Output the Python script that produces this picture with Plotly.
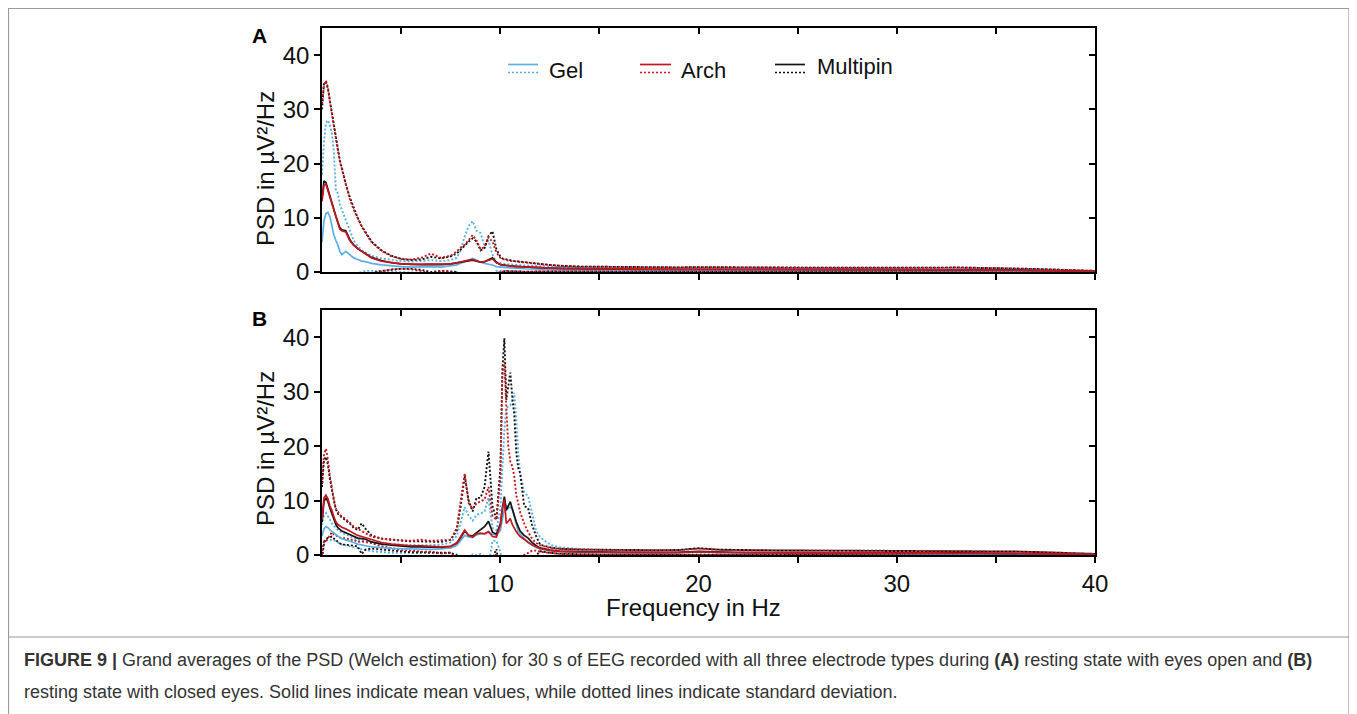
import plotly.graph_objects as go

# ---------------- data ----------------
freq = ([1.0, 1.1, 1.2, 1.3, 1.4, 1.5, 1.6, 1.7, 1.8, 1.9, 2.0, 2.2, 2.4, 2.6, 2.8, 3.0, 3.2, 3.5]
        + [4.0, 4.5, 5.0, 5.5, 6.0, 6.5, 7.0, 7.5, 7.8, 8.0, 8.2, 8.4, 8.6, 8.8, 9.0, 9.2, 9.4, 9.6, 9.8]
        + [10.0, 10.1, 10.2, 10.3, 10.4, 10.5, 10.6, 10.7, 10.8, 10.9, 11.0, 11.2, 11.4, 11.6, 11.8, 12.0, 12.5, 13.0]
        + list(range(14, 41)))

# Panel A: eyes open
gel_a_mean = ([5.5, 9.5, 10.8, 11.0, 10.2, 8.5, 6.8, 5.8, 5.0, 3.8, 3.2, 3.8, 3.2, 2.6, 2.3, 2.0, 1.9, 1.6]
              + [1.3, 1.1, 1.0, 0.9, 0.95, 1.0, 0.9, 1.1, 1.3, 1.6, 1.9, 2.3, 2.5, 2.2, 1.8, 1.6, 1.5, 1.3, 1.0]
              + [0.9, 0.85, 0.8, 0.8, 0.8, 0.75, 0.75, 0.7, 0.7, 0.7, 0.65, 0.6, 0.6, 0.55, 0.55, 0.5, 0.5, 0.45]
              + [0.4, 0.4, 0.38, 0.38, 0.36, 0.36, 0.38, 0.36, 0.35, 0.34, 0.34, 0.33, 0.33, 0.32, 0.32, 0.32, 0.3, 0.3, 0.3, 0.3, 0.3, 0.28, 0.26, 0.24, 0.2, 0.15, 0.1])
gel_a_sd = ([12.5, 14.5, 16.7, 17.0, 16.8, 17.0, 15.2, 9.2, 9.5, 8.7, 8.3, 5.7, 4.3, 3.2, 2.5, 2.0, 1.7, 1.4]
            + [1.2, 1.1, 1.0, 1.0, 1.05, 1.2, 1.1, 1.1, 1.3, 2.4, 4.7, 6.2, 6.9, 5.4, 5.4, 3.2, 4.3, 1.9, 0.8]
            + [0.7, 0.65, 0.7, 0.6, 0.6, 0.65, 0.6, 0.6, 0.6, 0.6, 0.6, 0.6, 0.6, 0.6, 0.55, 0.55, 0.5, 0.5]
            + [0.5, 0.45, 0.47, 0.42, 0.44, 0.44, 0.44, 0.44, 0.43, 0.44, 0.42, 0.43, 0.42, 0.43, 0.42, 0.42, 0.44, 0.42, 0.42, 0.44, 0.42, 0.4, 0.34, 0.26, 0.2, 0.15, 0.1])
arch_a_mean = ([13.0, 16.0, 16.2, 15.0, 13.5, 12.5, 11.2, 10.2, 8.9, 7.9, 7.6, 7.4, 5.8, 4.9, 4.3, 3.8, 3.3, 2.6]
               + [2.0, 1.7, 1.5, 1.4, 1.4, 1.5, 1.4, 1.5, 1.7, 1.9, 2.0, 2.2, 2.3, 2.0, 1.8, 1.9, 2.2, 2.4, 1.7]
               + [1.3, 1.25, 1.2, 1.2, 1.15, 1.1, 1.1, 1.05, 1.0, 1.0, 0.95, 0.9, 0.9, 0.85, 0.8, 0.8, 0.7, 0.65]
               + [0.6, 0.55, 0.5, 0.5, 0.48, 0.48, 0.5, 0.48, 0.46, 0.45, 0.44, 0.44, 0.43, 0.42, 0.42, 0.42, 0.4, 0.4, 0.4, 0.42, 0.4, 0.36, 0.32, 0.28, 0.22, 0.16, 0.1])
arch_a_sd = ([18.0, 18.5, 19.1, 19.0, 18.0, 16.5, 15.3, 14.3, 13.5, 12.5, 11.4, 8.6, 7.7, 6.6, 5.6, 4.6, 3.9, 2.9]
             + [1.9, 1.2, 0.9, 0.9, 1.2, 1.9, 1.2, 1.5, 2.1, 2.6, 3.0, 3.8, 4.5, 3.8, 2.4, 2.7, 4.2, 3.2, 1.9]
             + [1.3, 1.15, 1.1, 1.0, 0.95, 1.0, 0.9, 0.95, 0.9, 0.9, 0.9, 0.9, 0.85, 0.8, 0.75, 0.65, 0.6, 0.5]
             + [0.4, 0.4, 0.4, 0.38, 0.37, 0.37, 0.38, 0.37, 0.36, 0.35, 0.36, 0.36, 0.35, 0.36, 0.36, 0.36, 0.36, 0.36, 0.38, 0.43, 0.4, 0.36, 0.32, 0.27, 0.23, 0.16, 0.1])
multi_a_mean = ([13.5, 16.8, 16.5, 15.2, 13.8, 12.6, 11.3, 10.3, 9.2, 8.2, 7.8, 7.6, 6.0, 5.0, 4.3, 3.8, 3.4, 2.7]
                + [2.1, 1.7, 1.5, 1.4, 1.35, 1.4, 1.35, 1.5, 1.7, 1.9, 2.0, 2.1, 2.2, 2.0, 1.8, 1.9, 2.3, 2.6, 1.8]
                + [1.35, 1.3, 1.25, 1.2, 1.2, 1.15, 1.1, 1.1, 1.05, 1.0, 1.0, 0.95, 0.9, 0.85, 0.85, 0.8, 0.72, 0.66]
                + [0.6, 0.56, 0.52, 0.5, 0.5, 0.48, 0.5, 0.48, 0.46, 0.46, 0.45, 0.44, 0.44, 0.43, 0.42, 0.42, 0.42, 0.41, 0.41, 0.42, 0.4, 0.37, 0.33, 0.28, 0.22, 0.16, 0.1])
multi_a_sd = ([16.5, 18.0, 18.5, 18.6, 17.7, 16.6, 15.5, 14.3, 13.4, 12.4, 11.4, 8.6, 7.8, 6.8, 5.7, 4.7, 4.0, 2.9]
              + [1.9, 1.3, 0.9, 0.8, 0.95, 1.4, 1.15, 1.4, 1.7, 2.3, 2.8, 3.5, 4.0, 3.6, 2.2, 2.5, 4.3, 4.9, 2.4]
              + [1.45, 1.2, 1.15, 1.1, 1.0, 1.0, 1.0, 0.9, 0.95, 0.95, 0.9, 0.9, 0.85, 0.85, 0.75, 0.7, 0.58, 0.49]
              + [0.4, 0.39, 0.4, 0.38, 0.36, 0.37, 0.4, 0.38, 0.36, 0.34, 0.35, 0.36, 0.36, 0.35, 0.36, 0.38, 0.34, 0.35, 0.39, 0.4, 0.4, 0.35, 0.31, 0.27, 0.23, 0.16, 0.1])

# Panel B: eyes closed
gel_b_mean = ([3.5, 4.8, 5.2, 5.0, 4.6, 4.3, 4.0, 3.7, 3.4, 3.2, 3.0, 2.8, 2.5, 2.3, 2.0, 1.8, 1.7, 1.5]
              + [1.3, 1.2, 1.15, 1.1, 1.1, 1.05, 1.1, 1.3, 1.8, 2.6, 3.6, 3.3, 3.2, 3.7, 3.9, 3.9, 4.2, 3.8, 3.6]
              + [4.5, 6.5, 8.5, 9.2, 8.6, 8.8, 8.4, 7.0, 5.6, 4.4, 3.9, 3.0, 2.4, 1.8, 1.4, 1.1, 0.8, 0.6]
              + [0.5, 0.45, 0.42, 0.42, 0.4, 0.42, 0.55, 0.45, 0.4, 0.38, 0.38, 0.36, 0.36, 0.35, 0.35, 0.35, 0.34, 0.34, 0.33, 0.34, 0.32, 0.3, 0.28, 0.25, 0.2, 0.15, 0.1])
gel_b_sd = ([2.0, 2.4, 2.5, 2.2, 1.9, 1.5, 1.3, 1.2, 1.2, 1.1, 1.1, 1.0, 0.9, 0.8, 0.8, 0.8, 0.8, 0.8]
            + [0.8, 0.8, 0.75, 0.7, 0.7, 0.75, 0.8, 1.0, 1.7, 3.4, 5.2, 3.9, 3.1, 3.7, 3.7, 4.1, 6.3, 1.2, 1.0]
            + [4.0, 9.5, 14.5, 17.8, 18.6, 18.7, 20.1, 22.8, 19.4, 14.3, 11.1, 8.5, 8.4, 5.7, 3.1, 2.2, 1.1, 0.8]
            + [0.6, 0.5, 0.48, 0.46, 0.45, 0.46, 0.6, 0.5, 0.48, 0.47, 0.44, 0.44, 0.44, 0.43, 0.43, 0.43, 0.42, 0.42, 0.41, 0.42, 0.42, 0.4, 0.37, 0.31, 0.25, 0.17, 0.1])
arch_b_mean = ([6.5, 10.5, 11.0, 10.3, 9.0, 8.2, 7.0, 6.1, 5.6, 5.3, 5.1, 4.8, 4.4, 4.0, 3.6, 3.4, 3.2, 2.8]
               + [2.3, 2.0, 1.8, 1.7, 1.7, 1.6, 1.5, 1.6, 2.2, 3.4, 4.6, 3.6, 3.3, 3.9, 4.0, 3.9, 4.3, 3.4, 3.3]
               + [5.5, 8.5, 10.1, 5.8, 6.2, 6.7, 5.6, 4.9, 4.3, 3.8, 3.4, 2.9, 2.3, 1.9, 1.5, 1.2, 0.85, 0.65]
               + [0.55, 0.5, 0.46, 0.45, 0.44, 0.46, 0.6, 0.48, 0.44, 0.42, 0.4, 0.4, 0.4, 0.38, 0.38, 0.38, 0.37, 0.36, 0.36, 0.38, 0.36, 0.33, 0.3, 0.26, 0.21, 0.15, 0.1])
arch_b_sd = ([6.5, 8.0, 8.5, 7.2, 5.5, 4.0, 3.2, 2.4, 2.3, 2.1, 2.0, 1.7, 1.6, 1.2, 1.2, 0.9, 0.8, 0.6]
             + [0.7, 0.8, 0.9, 0.9, 1.1, 1.0, 1.2, 1.2, 2.8, 6.6, 10.4, 5.9, 5.2, 5.6, 5.8, 6.3, 8.2, 3.8, 3.2]
             + [8.5, 24.5, 25.4, 21.2, 13.8, 10.5, 10.7, 9.6, 6.7, 5.7, 4.4, 2.9, 1.9, 1.1, 0.7, 0.6, 0.45, 0.45]
             + [0.45, 0.42, 0.44, 0.43, 0.42, 0.44, 0.6, 0.47, 0.44, 0.43, 0.42, 0.4, 0.4, 0.4, 0.4, 0.4, 0.39, 0.4, 0.39, 0.4, 0.39, 0.37, 0.34, 0.29, 0.24, 0.17, 0.1])
multi_b_mean = ([6.0, 9.8, 10.5, 9.8, 8.6, 7.6, 6.5, 5.6, 5.0, 4.7, 4.4, 4.1, 3.8, 3.4, 3.1, 3.0, 2.9, 2.4]
                + [2.0, 1.8, 1.6, 1.5, 1.5, 1.4, 1.4, 1.6, 2.2, 3.2, 4.4, 3.6, 3.5, 4.1, 4.6, 5.2, 6.2, 4.2, 3.8]
                + [5.8, 8.5, 10.7, 8.2, 9.0, 9.8, 8.5, 7.2, 6.1, 5.2, 4.4, 3.6, 3.1, 2.3, 1.7, 1.3, 0.9, 0.7]
                + [0.58, 0.52, 0.48, 0.47, 0.46, 0.48, 0.65, 0.5, 0.46, 0.44, 0.42, 0.42, 0.41, 0.4, 0.4, 0.4, 0.38, 0.38, 0.37, 0.39, 0.37, 0.34, 0.31, 0.27, 0.22, 0.16, 0.1])
multi_b_sd = ([6.5, 7.7, 7.5, 6.7, 5.4, 4.2, 3.5, 2.8, 2.6, 2.5, 2.5, 2.2, 2.0, 1.6, 1.5, 2.8, 1.9, 1.2]
              + [1.0, 1.0, 1.0, 1.0, 1.0, 1.0, 1.0, 1.2, 2.3, 5.8, 10.1, 6.4, 4.5, 6.4, 5.9, 7.3, 12.8, 4.8, 2.7]
              + [10.2, 25.5, 29.1, 20.3, 22.0, 23.7, 20.5, 18.6, 12.9, 10.8, 10.6, 5.4, 5.5, 3.2, 1.8, 0.6, 0.5, 0.45]
              + [0.42, 0.43, 0.42, 0.43, 0.42, 0.44, 0.6, 0.48, 0.44, 0.42, 0.42, 0.4, 0.39, 0.4, 0.4, 0.38, 0.4, 0.38, 0.39, 0.41, 0.39, 0.36, 0.33, 0.28, 0.23, 0.16, 0.1])

electrodes = ["Gel", "Multipin", "Arch"]          # drawing order
colors = {"Gel": "#5AAFE6", "Arch": "#C4161C", "Multipin": "#141414"}
legend_order = ["Gel", "Arch", "Multipin"]
x_ticks = [5, 10, 15, 20, 25, 30, 35, 40]
x_ticktext = ["", "10", "", "20", "", "30", "", "40"]
y_ticks = [0, 10, 20, 30, 40]

panels = {
    "A": {"Gel": (gel_a_mean, gel_a_sd), "Arch": (arch_a_mean, arch_a_sd), "Multipin": (multi_a_mean, multi_a_sd)},
    "B": {"Gel": (gel_b_mean, gel_b_sd), "Arch": (arch_b_mean, arch_b_sd), "Multipin": (multi_b_mean, multi_b_sd)},
}
for p in panels.values():
    for m, s in p.values():
        assert len(m) == len(freq) and len(s) == len(freq), (len(m), len(s), len(freq))

# ---------------- figure ----------------
# the page body has an 8 px margin, so the figure is drawn 8 px in from the window corner
OFF = 8
W, H = 1357 - OFF, 714 - OFF
L, R, T, B = 322 - OFF, 262, 28 - OFF, 159
PW, PH = W - L - R, H - T - B


def px_x(px):
    """screen x (window pixels) -> paper x"""
    return (px - OFF - L) / PW


def px_y(py):
    """screen y (window pixels) -> paper y"""
    return (H - B - (py - OFF)) / PH


fig = go.Figure()
axis_of = {"A": ("x", "y"), "B": ("x2", "y2")}
FONT = "Liberation Sans, Arial, Helvetica, sans-serif"
DOT = "2px,2px"

for pname, pdata in panels.items():
    xa, ya = axis_of[pname]
    for el in electrodes:
        mean, sd = pdata[el]
        upper = [m + s for m, s in zip(mean, sd)]
        lower = [m - s for m, s in zip(mean, sd)]
        for ys in (lower, upper):
            fig.add_trace(go.Scatter(x=freq, y=ys, mode="lines", xaxis=xa, yaxis=ya,
                                     line=dict(color=colors[el], width=1.9, dash=DOT),
                                     showlegend=False, hoverinfo="skip"))
    for el in electrodes:
        mean, sd = pdata[el]
        fig.add_trace(go.Scatter(x=freq, y=mean, mode="lines", xaxis=xa, yaxis=ya,
                                 line=dict(color=colors[el], width=1.7),
                                 showlegend=False, name=el))

# dummy traces to register mirror-tick overlay axes
for xa, ya in [("x3", "y"), ("x", "y3"), ("x4", "y2"), ("x2", "y4")]:
    fig.add_trace(go.Scatter(x=[None], y=[None], xaxis=xa, yaxis=ya, showlegend=False, hoverinfo="skip"))

dom_a = [px_y(272), 1.0]
dom_b = [0.0, px_y(310)]

common_x = dict(range=[1, 40], tickmode="array", tickvals=x_ticks, ticktext=x_ticktext,
                showgrid=False, zeroline=False, showline=True, linecolor="black", linewidth=1.5,
                mirror=True, ticks="outside", ticklen=6, tickwidth=1.5, tickcolor="black",
                tickfont=dict(size=24, color="#111", family=FONT))
common_y = dict(range=[0, 45], tickmode="array", tickvals=y_ticks, showgrid=False, zeroline=False,
                showline=True, linecolor="black", linewidth=1.5, mirror=True, ticks="outside",
                ticklen=6, tickwidth=1.5, tickcolor="black",
                tickfont=dict(size=24, color="#111", family=FONT))
mirror_x = dict(range=[1, 40], tickmode="array", tickvals=x_ticks, showticklabels=False, showgrid=False,
                zeroline=False, showline=False, ticks="inside", ticklen=6, tickwidth=1.5, tickcolor="black",
                side="top")
mirror_y = dict(range=[0, 45], tickmode="array", tickvals=y_ticks, showticklabels=False, showgrid=False,
                zeroline=False, showline=False, ticks="inside", ticklen=6, tickwidth=1.5, tickcolor="black",
                side="right")

fig.update_layout(
    width=W, height=H,
    margin=dict(l=L, r=R, t=T, b=B, pad=0),
    paper_bgcolor="white", plot_bgcolor="white",
    font=dict(family=FONT, color="#111"),
    showlegend=False,
    xaxis=dict(**common_x, anchor="y", showticklabels=False),
    yaxis=dict(**common_y, anchor="x", domain=dom_a),
    xaxis2=dict(**common_x, anchor="y2"),
    yaxis2=dict(**common_y, anchor="x2", domain=dom_b),
    xaxis3=dict(**mirror_x, overlaying="x", anchor="y"),
    yaxis3=dict(**mirror_y, overlaying="y", anchor="x"),
    xaxis4=dict(**mirror_x, overlaying="x2", anchor="y2"),
    yaxis4=dict(**mirror_y, overlaying="y2", anchor="x2"),
)

ann = []
# panel letters
ann.append(dict(text="<b>A</b>", x=px_x(259), y=px_y(35), xref="paper", yref="paper", showarrow=False,
                font=dict(size=21, family=FONT, color="black"), xanchor="center", yanchor="middle"))
ann.append(dict(text="<b>B</b>", x=px_x(259), y=px_y(318), xref="paper", yref="paper", showarrow=False,
                font=dict(size=21, family=FONT, color="black"), xanchor="center", yanchor="middle"))
# axis titles
for cy in (169, 449):
    ann.append(dict(text="PSD in µV²/Hz", x=px_x(265), y=px_y(cy), xref="paper", yref="paper",
                    showarrow=False, textangle=-90, font=dict(size=24, family=FONT, color="#111"),
                    xanchor="center", yanchor="middle"))
ann.append(dict(text="Frequency in Hz", x=px_x(693), y=px_y(607), xref="paper", yref="paper",
                showarrow=False, font=dict(size=24, family=FONT, color="#111"),
                xanchor="center", yanchor="middle"))

# legend (custom: solid + dotted sample per electrode)
legend_pos = {"Gel": (508, 538, 547, 70), "Arch": (640, 671, 679, 70), "Multipin": (775, 805, 815, 67)}
shapes = []
for el in legend_order:
    x0, x1, tx, ty = legend_pos[el]
    shapes.append(dict(type="line", xref="paper", yref="paper", x0=px_x(x0), x1=px_x(x1),
                       y0=px_y(64.5), y1=px_y(64.5), line=dict(color=colors[el], width=1.7)))
    shapes.append(dict(type="line", xref="paper", yref="paper", x0=px_x(x0), x1=px_x(x1),
                       y0=px_y(72.5), y1=px_y(72.5), line=dict(color=colors[el], width=1.7, dash=DOT)))
    ann.append(dict(text=el, x=px_x(tx), y=px_y(ty), xref="paper", yref="paper", showarrow=False,
                    font=dict(size=22, family=FONT, color="#111"), xanchor="left", yanchor="middle"))

# caption
cap1 = ("<b>FIGURE 9 |</b> Grand averages of the PSD (Welch estimation) for 30 s of EEG recorded with all "
        "three electrode types during <b>(A)</b> resting state with eyes open and <b>(B)</b>")
cap2 = ("resting state with closed eyes. Solid lines indicate mean values, while dotted lines indicate "
        "standard deviation.")
ann.append(dict(text=cap1, x=px_x(22), y=px_y(660), xref="paper", yref="paper", showarrow=False,
                font=dict(size=18, family=FONT, color="#333"), xanchor="left", yanchor="middle", align="left"))
ann.append(dict(text=cap2, x=px_x(22), y=px_y(692), xref="paper", yref="paper", showarrow=False,
                font=dict(size=18, family=FONT, color="#333"), xanchor="left", yanchor="middle", align="left"))

# frame boxes
shapes.append(dict(type="rect", xref="paper", yref="paper", x0=px_x(8.5), x1=px_x(1349), y0=px_y(637), y1=px_y(8.5),
                   line=dict(color="#9a9a9a", width=1.2)))
shapes.append(dict(type="line", xref="paper", yref="paper", x0=px_x(8.5), x1=px_x(8.5), y0=px_y(637), y1=px_y(714),
                   line=dict(color="#9a9a9a", width=1.2)))
shapes.append(dict(type="line", xref="paper", yref="paper", x0=px_x(1349), x1=px_x(1349), y0=px_y(637), y1=px_y(714),
                   line=dict(color="#9a9a9a", width=1.2)))

fig.update_layout(annotations=ann, shapes=shapes)
fig.write_html("out.html")
